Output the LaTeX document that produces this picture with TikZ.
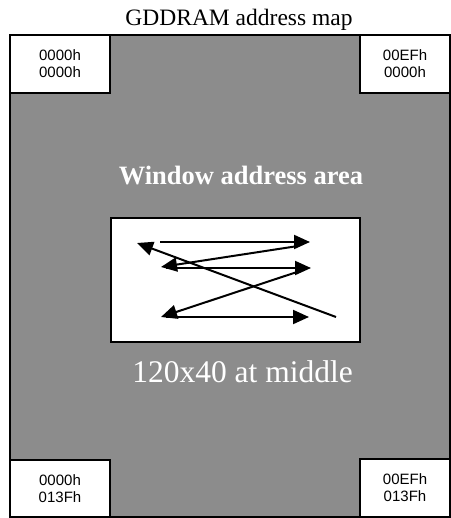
\documentclass[tikz,border=0pt]{standalone}
\usepackage{fontspec}
\setmainfont{Liberation Serif}
\newfontfamily\labelfont{Liberation Sans}
\usetikzlibrary{arrows.meta}
\definecolor{areagray}{RGB}{140,140,140}
\tikzset{
    every node/.style={inner sep=0pt, outer sep=0pt}
}
\tikzset{
    maparea/.style={rectangle, draw, line width=1.3bp, fill=areagray},
    corner/.style={rectangle, draw, line width=1.3bp, fill=white,
        align=center, font=\labelfont\fontsize{15bp}{17bp}\selectfont},
    winbox/.style={rectangle, draw, line width=1.5bp, fill=white},
    scanline/.style={line width=2bp, -{Triangle[length=16bp, width=14bp]}}
}

\begin{document}
\begin{tikzpicture}[x=1bp, y=-1bp]
  \useasboundingbox (0,0) rectangle (451,518);
  \node (title) [anchor=base, font=\fontsize{23.5bp}{28bp}\selectfont] at (239,26) {GDDRAM address map};
  \node (gddram) [maparea, minimum width=440bp, minimum height=482bp] at (230,276) {};

  \node (tl) [corner, minimum width=100bp, minimum height=58bp] at (60,64) {0000h\\0000h};
  \node (tr) [corner, minimum width=90bp, minimum height=58bp] at (405,64) {00EFh\\0000h};
  \node (bl) [corner, minimum width=100bp, minimum height=57bp] at (60,488.5) {0000h\\013Fh};
  \node (br) [corner, minimum width=90bp, minimum height=58bp] at (405,488) {00EFh\\013Fh};

  \node (wintext) [anchor=base, text=white, font=\bfseries\fontsize{26.5bp}{30bp}\selectfont] at (241,185) {Window address area};
  \node (win) [winbox, minimum width=249bp, minimum height=124bp] at (235.5,280) {};
  \node (size) [anchor=base, text=white, font=\fontsize{31.5bp}{36bp}\selectfont] at (242.5,382) {120x40 at middle};

  % scan path inside the window
  \coordinate (s1) at (160,242);
  \coordinate (e1) at (310,242);
  \coordinate (s2) at (298,246);
  \coordinate (e2) at (161,267);
  \coordinate (s3) at (166,268);
  \coordinate (e3) at (311,268);
  \coordinate (s4) at (300,271);
  \coordinate (e4) at (161,317);
  \coordinate (s5) at (166,317);
  \coordinate (e5) at (309,317);
  \coordinate (s6) at (336,317);
  \coordinate (e6) at (137,243);

  \draw [scanline] (s1) -- (e1);
  \draw [scanline] (s2) -- (e2);
  \draw [scanline] (s3) -- (e3);
  \draw [scanline] (s4) -- (e4);
  \draw [scanline] (s5) -- (e5);
  \draw [scanline] (s6) -- (e6);
\end{tikzpicture}
\end{document}
